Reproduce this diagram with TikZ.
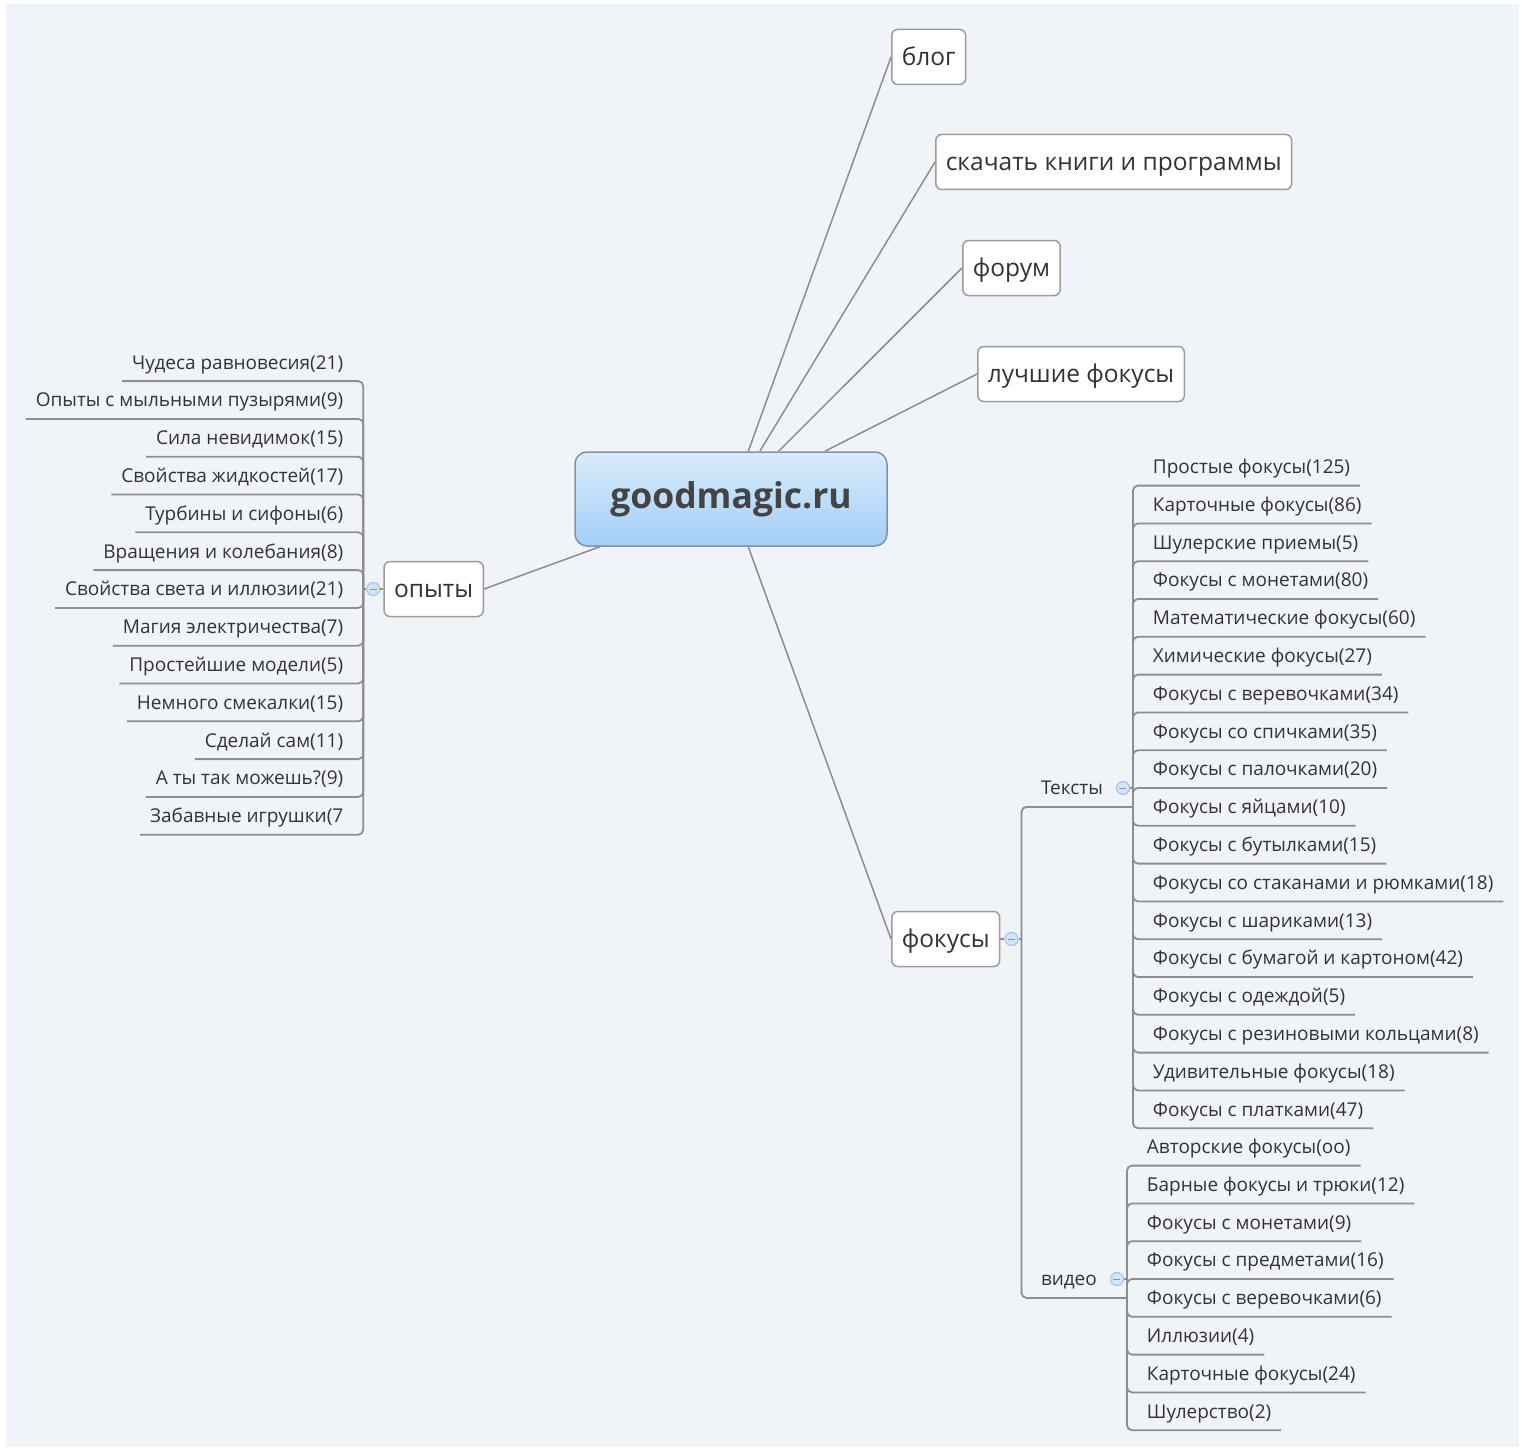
\documentclass[tikz,border=0pt]{standalone}
\usepackage{fontspec}
\setmainfont{Open Sans}
\usetikzlibrary{positioning}
\definecolor{bgc}{HTML}{F0F3F8}
\definecolor{linec}{HTML}{8E8E8E}
\definecolor{boxc}{HTML}{9C9C9C}
\definecolor{txtc}{HTML}{333333}
\definecolor{hubtxt}{HTML}{444444}
\definecolor{hubtop}{HTML}{D9ECFC}
\definecolor{hubbot}{HTML}{A2CEF6}
\definecolor{hubline}{HTML}{7E93A8}
\definecolor{dotfill}{HTML}{D3E5F8}
\definecolor{dotline}{HTML}{A6C6EC}

\begin{document}
\begin{tikzpicture}[
  x=1pt, y=-1pt,
  hub/.style={draw=hubline, line width=1.5pt, rounded corners=12pt, top color=hubtop, bottom color=hubbot,
    minimum width=312pt, minimum height=94pt, font=\fontsize{35.5}{37}\selectfont\bfseries, text=hubtxt,
    text height=19pt, text depth=0pt},
  topic/.style={draw=boxc, line width=1.5pt, fill=white, rounded corners=6pt, inner xsep=10pt, inner ysep=0pt,
    minimum height=55pt, font=\fontsize{24.5}{26}\selectfont, text=txtc, text height=17.5pt, text depth=0pt},
  leaf/.style={inner xsep=10pt, inner ysep=0pt, outer sep=0pt, minimum height=37.8pt, font=\fontsize{19}{20}\selectfont,
    text=txtc, text height=13.6pt, text depth=0pt},
  lnext/.style={below=0pt of #1.south east, anchor=north east},
  rnext/.style={below=0pt of #1.south west, anchor=north west},
  fold/.style={circle, draw=dotline, fill=dotfill, line width=1.2pt, minimum size=13pt, inner sep=0pt,
    path picture={\draw[dotline!70!blue, line width=1pt] ([xshift=-3.5pt]path picture bounding box.center)
      -- ([xshift=3.5pt]path picture bounding box.center);}},
  link/.style={draw=linec, line width=1.5pt},
  branch/.style={draw=linec, line width=1.8pt, rounded corners=5pt}
]
% page
\path[use as bounding box, fill=white] (0,0) rectangle (1522,1450);
\fill[bgc] (6,4) rectangle (1519,1447);

% main topics
\node[hub] (gm) at (731,499) {goodmagic.ru};
\node[topic, anchor=west] (blog) at (891,57) {блог};
\node[topic, anchor=west] (soft) at (935,162) {скачать книги и программы};
\node[topic, anchor=west] (forum) at (962,268) {форум};
\node[topic, anchor=west] (best) at (977,374) {лучшие фокусы};
\node[topic, anchor=east] (opyty) at (484,589) {опыты};
\node[topic, anchor=west] (fokusy) at (891,939) {фокусы};

\node[fold, left=3pt of opyty] (ofold) {};
\coordinate (obar) at ([xshift=-10pt]ofold.center);
\node[fold, right=4pt of fokusy] (ffold) {};
\coordinate (fbar) at ([xshift=10pt]ffold.center);

\node[leaf, anchor=west] (texts) at (1031,788) {Тексты};
\node[fold, right=3pt of texts] (tfold) {};
\coordinate (tbar) at ([xshift=10pt]tfold.center);
\node[leaf, anchor=west] (video) at (1031,1279) {видео};
\node[fold, right=3pt of video] (vfold) {};
\coordinate (vbar) at ([xshift=10pt]vfold.center);

% опыты
\node[leaf, anchor=east] (o1) at ([shift={(-10pt,226.8pt)}]obar) {Чудеса равновесия(21)};
\node[leaf, lnext=o1] (o2) {Опыты с мыльными пузырями(9)};
\node[leaf, lnext=o2] (o3) {Сила невидимок(15)};
\node[leaf, lnext=o3] (o4) {Свойства жидкостей(17)};
\node[leaf, lnext=o4] (o5) {Турбины и сифоны(6)};
\node[leaf, lnext=o5] (o6) {Вращения и колебания(8)};
\node[leaf, lnext=o6] (o7) {Свойства света и иллюзии(21)};
\node[leaf, lnext=o7] (o8) {Магия электричества(7)};
\node[leaf, lnext=o8] (o9) {Простейшие модели(5)};
\node[leaf, lnext=o9] (o10) {Немного смекалки(15)};
\node[leaf, lnext=o10] (o11) {Сделай сам(11)};
\node[leaf, lnext=o11] (o12) {А ты так можешь?(9)};
\node[leaf, lnext=o12] (o13) {Забавные игрушки(7};

% Тексты
\node[leaf, anchor=west] (t1) at ([shift={(10pt,321.3pt)}]tbar) {Простые фокусы(125)};
\node[leaf, rnext=t1] (t2) {Карточные фокусы(86)};
\node[leaf, rnext=t2] (t3) {Шулерские приемы(5)};
\node[leaf, rnext=t3] (t4) {Фокусы с монетами(80)};
\node[leaf, rnext=t4] (t5) {Математические фокусы(60)};
\node[leaf, rnext=t5] (t6) {Химические фокусы(27)};
\node[leaf, rnext=t6] (t7) {Фокусы с веревочками(34)};
\node[leaf, rnext=t7] (t8) {Фокусы со спичками(35)};
\node[leaf, rnext=t8] (t9) {Фокусы с палочками(20)};
\node[leaf, rnext=t9] (t10) {Фокусы с яйцами(10)};
\node[leaf, rnext=t10] (t11) {Фокусы с бутылками(15)};
\node[leaf, rnext=t11] (t12) {Фокусы со стаканами и рюмками(18)};
\node[leaf, rnext=t12] (t13) {Фокусы с шариками(13)};
\node[leaf, rnext=t13] (t14) {Фокусы с бумагой и картоном(42)};
\node[leaf, rnext=t14] (t15) {Фокусы с одеждой(5)};
\node[leaf, rnext=t15] (t16) {Фокусы с резиновыми кольцами(8)};
\node[leaf, rnext=t16] (t17) {Удивительные фокусы(18)};
\node[leaf, rnext=t17] (t18) {Фокусы с платками(47)};

% видео
\node[leaf, anchor=west] (v1) at ([shift={(10pt,132.3pt)}]vbar) {Авторские фокусы(оо)};
\node[leaf, rnext=v1] (v2) {Барные фокусы и трюки(12)};
\node[leaf, rnext=v2] (v3) {Фокусы с монетами(9)};
\node[leaf, rnext=v3] (v4) {Фокусы с предметами(16)};
\node[leaf, rnext=v4] (v5) {Фокусы с веревочками(6)};
\node[leaf, rnext=v5] (v6) {Иллюзии(4)};
\node[leaf, rnext=v6] (v7) {Карточные фокусы(24)};
\node[leaf, rnext=v7] (v8) {Шулерство(2)};

% links from the hub
\draw[link] (gm) -- (blog.west);
\draw[link] (gm) -- (soft.west);
\draw[link] (gm) -- (forum.west);
\draw[link] (gm) -- (best.west);
\draw[link] (gm) -- (opyty.east);
\draw[link] (gm) -- (fokusy.west);

% tree branches
\draw[branch] (opyty) -- (ofold);
\draw[branch] (ofold) -- (obar);
\foreach \i in {1,...,13} \draw[branch] (obar) |- (o\i.south west);
\draw[branch] (fokusy) -- (ffold);
\draw[branch] (ffold) -- (fbar);
\draw[branch] (fbar) |- (tbar |- texts.south);
\draw[branch] (fbar) |- (vbar |- video.south);
\draw[branch] (tfold) -- (tbar);
\foreach \i in {1,...,18} \draw[branch] (tbar) |- (t\i.south east);
\draw[branch] (vfold) -- (vbar);
\foreach \i in {1,...,8} \draw[branch] (vbar) |- (v\i.south east);
\end{tikzpicture}
\end{document}
